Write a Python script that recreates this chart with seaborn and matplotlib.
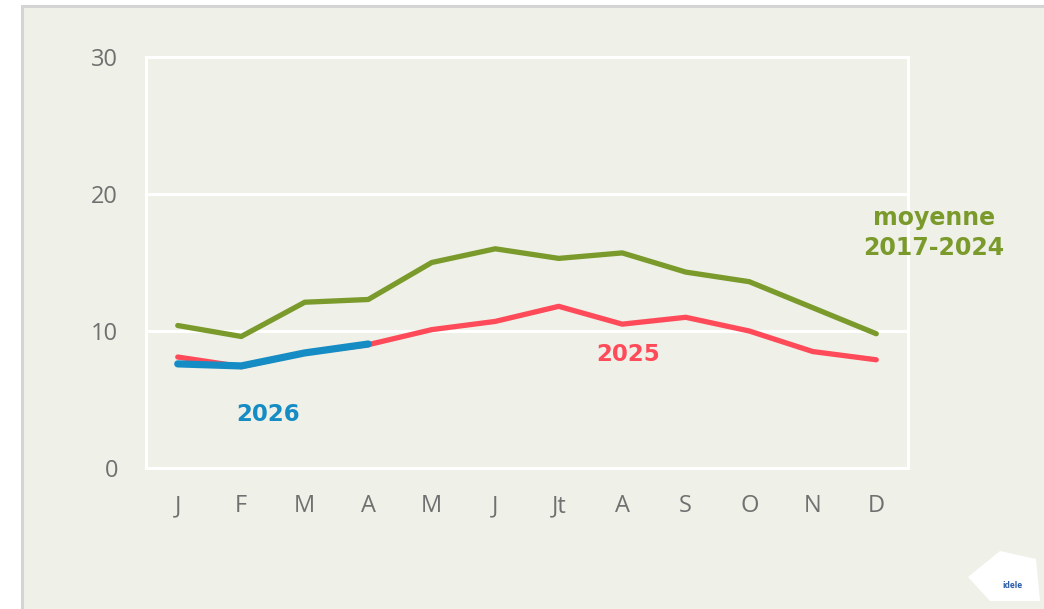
import matplotlib
matplotlib.use("Agg")
import matplotlib.pyplot as plt
from matplotlib.patches import Rectangle, Polygon
import seaborn as sns
import pandas as pd
import numpy as np

months = ["J", "F", "M", "A", "M", "J", "Jt", "A", "S", "O", "N", "D"]
moyenne_2017_2024 = [10.4, 9.6, 12.1, 12.3, 15.0, 16.0, 15.3, 15.7, 14.3, 13.6, 11.7, 9.8]
annee_2025 = [8.1, 7.4, 8.4, 9.0, 10.1, 10.7, 11.8, 10.5, 11.0, 10.0, 8.5, 7.9]
annee_2026 = [7.6, 7.45, 8.4, 9.05]
y_ticks = [0, 10, 20, 30]

BG = "#EFF0E8"
GREEN = "#7A9A2B"
RED = "#FF4B59"
BLUE = "#168CC4"
GREY = "#707070"

sns.set_style("white")
plt.rcParams["font.family"] = ["Open Sans", "DejaVu Sans"]

fig = plt.figure(figsize=(10.44, 6.09), dpi=100, facecolor="white")
# background panel with grey border (extends beyond right/bottom edges)
fig.patches.append(Rectangle((22 / 1044, -0.05), 1.1, 1.05 - 6 / 609,
                             transform=fig.transFigure, facecolor=BG,
                             edgecolor="#D4D4D4", linewidth=2.2, zorder=-10))

ax = fig.add_axes([146 / 1044, 141 / 609, (908 - 146) / 1044, (468 - 57) / 609])
ax.set_facecolor(BG)

x = np.arange(len(months))
df_moy = pd.DataFrame({"x": x, "v": moyenne_2017_2024})
df_25 = pd.DataFrame({"x": x, "v": annee_2025})
df_26 = pd.DataFrame({"x": x[:len(annee_2026)], "v": annee_2026})

ax.axhline(10, color="white", lw=2.2, zorder=1)
ax.axhline(20, color="white", lw=2.2, zorder=1)

sns.lineplot(data=df_moy, x="x", y="v", ax=ax, color=GREEN, lw=3.8, zorder=3,
             solid_capstyle="round", solid_joinstyle="round")
sns.lineplot(data=df_25, x="x", y="v", ax=ax, color=RED, lw=3.8, zorder=3,
             solid_capstyle="round", solid_joinstyle="round")
sns.lineplot(data=df_26, x="x", y="v", ax=ax, color=BLUE, lw=5.2, zorder=4,
             solid_capstyle="round", solid_joinstyle="round")

ax.set_xlim(-0.5, 11.5)
ax.set_ylim(0, 30)
ax.set_xticks(x)
ax.set_xticklabels(months)
ax.set_yticks(y_ticks)
ax.set_yticklabels([str(t) for t in y_ticks])
ax.set_xlabel("")
ax.set_ylabel("")
ax.tick_params(axis="both", length=0, labelsize=17, labelcolor=GREY)
ax.tick_params(axis="x", pad=19)
ax.tick_params(axis="y", pad=20)
for s in ax.spines.values():
    s.set_visible(True)
    s.set_color("white")
    s.set_linewidth(2.2)
ax.grid(False)

lab_font = ["DejaVu Sans"]
ax.text(1.43, 3.9, "2026", color=BLUE, fontsize=16.5, family=lab_font,
        fontweight="bold", ha="center", va="center")
ax.text(7.1, 8.3, "2025", color=RED, fontsize=16.5, family=lab_font,
        fontweight="bold", ha="center", va="center")
ax.text(934 / 1044, (609 - 233) / 609, "moyenne\n2017-2024", color=GREEN,
        fontsize=17, fontweight="bold", family=lab_font, ha="center",
        va="center", linespacing=1.3, transform=fig.transFigure, zorder=5)

# small logo badge
fig.patches.append(Polygon([(968 / 1044, 32 / 609), (1000 / 1044, 58 / 609),
                            (1036 / 1044, 50 / 609), (1040 / 1044, 8 / 609),
                            (990 / 1044, 8 / 609)],
                           closed=True, transform=fig.transFigure,
                           facecolor="white", edgecolor="none", zorder=1))
fig.text(1012 / 1044, 24 / 609, "idele", color="#2A5CA8", fontsize=6,
         fontweight="bold", ha="center", va="center")

fig.savefig("out.png", dpi=100, facecolor="white")
